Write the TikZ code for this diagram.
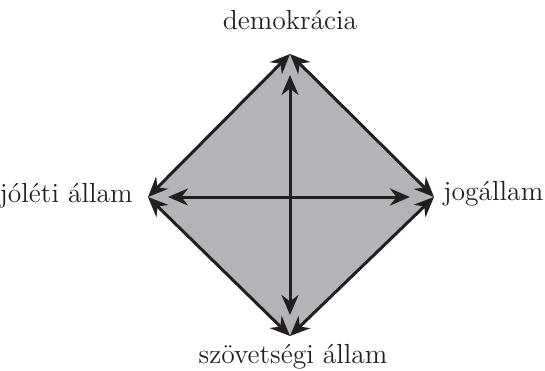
\documentclass[tikz,border=0pt]{standalone}
\usetikzlibrary{arrows.meta}
\definecolor{diagfill}{RGB}{179,180,183}
\definecolor{diagline}{RGB}{35,31,32}
\tikzset{
  dbl/.style={line width=1.5pt, draw=diagline, {Stealth[length=10pt,width=8.5pt]}-{Stealth[length=10pt,width=8.5pt]}},
  cornerlabel/.style={font=\fontsize{13.8}{16}\selectfont, text=diagline, inner sep=0pt}
}
\begin{document}
\begin{tikzpicture}[x=0.5pt, y=-0.5pt]
  \useasboundingbox (0,0) rectangle (545,370);
  % corners of the diamond
  \coordinate (top) at (290,54);
  \coordinate (right) at (434,197);
  \coordinate (bottom) at (290,336);
  \coordinate (left) at (148,197);
  % labels
  \node[cornerlabel, anchor=base] (demo) at (290,29) {demokrácia};
  \node[cornerlabel, anchor=base east] (jolet) at (133,202) {jóléti állam};
  \node[cornerlabel, anchor=base west] (jog) at (443,200) {jogállam};
  \node[cornerlabel, anchor=base] (szov) at (293,363) {szövetségi állam};
  % gray area
  \fill[diagfill] (top) -- (right) -- (bottom) -- (left) -- cycle;
  % sides
  \draw[dbl] (top) -- (right);
  \draw[dbl] (right) -- (bottom);
  \draw[dbl] (bottom) -- (left);
  \draw[dbl] (left) -- (top);
  % cross
  \draw[dbl, shorten <=10.5pt, shorten >=10.5pt] (top) -- (bottom);
  \draw[dbl, shorten <=10pt, shorten >=12pt] (left) -- (right);
\end{tikzpicture}
\end{document}
